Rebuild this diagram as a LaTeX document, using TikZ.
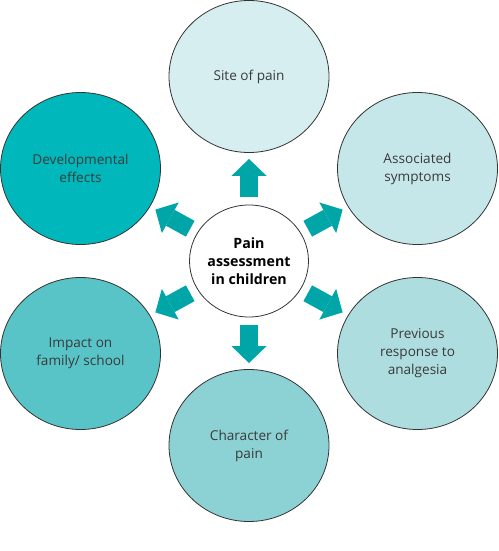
\documentclass[tikz,border=0pt]{standalone}
\usepackage{fontspec}
\setmainfont{Open Sans}
\usetikzlibrary{arrows.meta, shapes.geometric}

\definecolor{siteC}{HTML}{D6EEF0}
\definecolor{assocC}{HTML}{C6E7E9}
\definecolor{prevC}{HTML}{AEDDDF}
\definecolor{charC}{HTML}{8CD1D3}
\definecolor{impactC}{HTML}{58C4C7}
\definecolor{devC}{HTML}{00B8BC}
\definecolor{arrowC}{HTML}{00A6A7}
\definecolor{textC}{HTML}{3A3A3A}
\definecolor{lineC}{HTML}{333333}

\begin{document}
\begin{tikzpicture}[x=1pt, y=-1pt,
	bubble/.style={draw=lineC, line width=0.8pt, ellipse, inner sep=0pt,
		minimum width=160pt, minimum height=152pt, align=center,
		text=textC, font=\fontsize{13.6}{18}\selectfont},
	hub/.style={draw=lineC, line width=0.8pt, ellipse, inner sep=0pt, fill=white,
		minimum width=119pt, minimum height=112pt, align=center,
		font=\fontsize{14.2}{17.7}\selectfont\bfseries},
	blockarrow/.style={arrowC, line width=18pt, shorten <=8pt, shorten >=6pt,
		-{Triangle[length=17pt, width=35pt, line width=0pt]}}]

	\useasboundingbox (0,0) rectangle (498,551);

	% ============ CENTRE ============
	\node[hub] (C) at (249,261) {Pain\\assessment\\in children};

	% ============ OUTER CIRCLES ============
	\foreach \n/\x/\y/\c/\t in {
		O1/249/76.5/siteC/{Site of pain},
		O2/417.5/168.5/assocC/{Associated\\symptoms},
		O3/417.5/353.5/prevC/{Previous\\response to\\analgesia},
		O4/249/445.5/charC/{Character of\\pain},
		O5/80.5/353.5/impactC/{Impact on\\family/ school},
		O6/80.5/168.5/devC/{Developmental\\effects}} {
		\node[bubble, fill=\c] (\n) at (\x,\y) {\t};
	}

	% Block arrows (centre -> outer)
	\foreach \n in {O1, O2, O3, O4, O5, O6} {
		\draw[blockarrow] (C) -- (\n);
	}

\end{tikzpicture}
\end{document}
